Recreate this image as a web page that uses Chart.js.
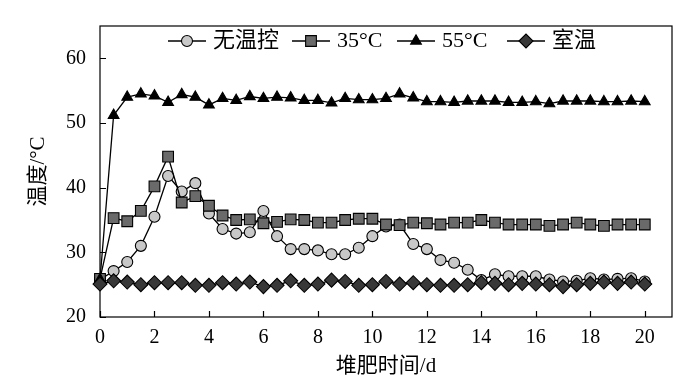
<!DOCTYPE html>
<html>
<head>
<meta charset="utf-8">
<script src="https://cdn.jsdelivr.net/npm/chart.js@4/dist/chart.umd.min.js"></script>
<style>
html,body{margin:0;padding:0;background:#fff;}
#wrap{width:700px;height:384px;}
</style>
</head>
<body>
<div id="wrap"><canvas id="c" width="700" height="384"></canvas></div>
<script>
// ---- data ----
const days = [0,0.5,1,1.5,2,2.5,3,3.5,4,4.5,5,5.5,6,6.5,7,7.5,8,8.5,9,9.5,10,10.5,11,11.5,12,12.5,13,13.5,14,14.5,15,15.5,16,16.5,17,17.5,18,18.5,19,19.5,20];
const seriesNames = ['无温控','35°C','55°C','室温'];
const noControl = [25.8,27.1,28.5,31.0,35.5,41.8,39.4,40.7,36.0,33.6,32.9,33.1,36.4,32.5,30.5,30.5,30.3,29.7,29.7,30.7,32.5,34.0,34.3,31.3,30.5,28.8,28.4,27.3,25.7,26.6,26.3,26.3,26.3,25.8,25.5,25.6,26.0,25.8,25.9,26.0,25.5];
const temp35 = [25.9,35.3,34.8,36.4,40.2,44.8,37.7,38.7,37.2,35.7,35.0,35.1,34.5,34.7,35.1,35.0,34.6,34.6,35.0,35.2,35.2,34.3,34.2,34.6,34.5,34.3,34.6,34.6,35.0,34.6,34.3,34.3,34.3,34.1,34.3,34.6,34.3,34.1,34.3,34.3,34.3];
const temp55 = [25.8,51.2,54.0,54.5,54.2,53.2,54.4,54.0,52.8,53.8,53.5,54.1,53.8,54.0,53.9,53.5,53.5,53.1,53.8,53.6,53.6,53.8,54.5,53.9,53.3,53.3,53.2,53.4,53.4,53.4,53.2,53.2,53.3,53.0,53.4,53.4,53.4,53.3,53.3,53.4,53.3];
const roomTemp = [25.1,25.6,25.4,25.0,25.3,25.3,25.3,24.9,24.9,25.3,25.1,25.4,24.7,24.9,25.6,24.9,25.1,25.7,25.5,24.9,25.0,25.5,25.1,25.3,25.0,24.9,24.9,25.0,25.3,25.2,25.0,25.2,25.1,25.0,24.7,25.0,25.2,25.4,25.2,25.4,25.1];
const xAxisTitle = '堆肥时间/d';
const yAxisTitle = '温度/°C';

const FONT = "'Liberation Serif','Noto Sans CJK SC',serif";
Chart.defaults.font.family = FONT;
Chart.defaults.color = '#000';

function pts(arr){ return arr.map((v,i)=>({x:days[i], y:v})); }

const styles = [
  {pointStyle:'circle', radius:5.5, fill:'#c8c8c8', order:4},
  {pointStyle:'rect', radius:7.6, fill:'#6a6a6a', order:3},
  {pointStyle:'triangle', radius:6.2, fill:'#000000', order:2},
  {pointStyle:'rectRot', radius:7, fill:'#383838', order:1}
];
const allData = [noControl, temp35, temp55, roomTemp];

const datasets = allData.map((arr,i)=>({
  label: seriesNames[i],
  data: pts(arr),
  borderColor:'#000',
  borderWidth:1.3,
  pointStyle: styles[i].pointStyle,
  pointRadius: styles[i].radius,
  pointHoverRadius: styles[i].radius,
  pointBackgroundColor: styles[i].fill,
  pointBorderColor:'#000',
  pointBorderWidth:1.1,
  tension:0,
  clip:false,
  order: styles[i].order
}));

const framePlugin = {
  id:'frame',
  beforeDatasetsDraw(chart){
    const {ctx, chartArea:a, scales} = chart;
    ctx.save();
    ctx.strokeStyle = '#000';
    ctx.lineWidth = 1.2;
    ctx.strokeRect(a.left, a.top, a.right-a.left, a.bottom-a.top);
    ctx.beginPath();
    scales.y.ticks.forEach(t=>{
      const y = Math.round(scales.y.getPixelForValue(t.value))+0.5;
      ctx.moveTo(a.left, y); ctx.lineTo(a.left+6, y);
    });
    scales.x.ticks.forEach(t=>{
      const x = Math.round(scales.x.getPixelForValue(t.value))+0.5;
      ctx.moveTo(x, a.bottom); ctx.lineTo(x, a.bottom-6);
    });
    ctx.stroke();
    ctx.restore();
  },
  afterDraw(chart){
    const ctx = chart.ctx;
    const xs = [168, 292, 397, 507];
    const y = 41;
    ctx.save();
    chart.data.datasets.forEach((ds,i)=>{
      const x0 = xs[i];
      ctx.strokeStyle = '#000';
      ctx.lineWidth = 1.3;
      ctx.beginPath(); ctx.moveTo(x0, y); ctx.lineTo(x0+38, y); ctx.stroke();
      ctx.fillStyle = ds.pointBackgroundColor;
      ctx.strokeStyle = '#000';
      ctx.lineWidth = 1.1;
      Chart.helpers.drawPoint(ctx, {pointStyle: ds.pointStyle, radius: ds.pointRadius, rotation:0, borderWidth:1.1}, x0+19, y);
      ctx.fillStyle = '#000';
      ctx.font = "22px " + FONT;
      ctx.textBaseline = 'middle';
      ctx.textAlign = 'left';
      ctx.fillText(ds.label, x0+45, y);
    });
    ctx.restore();
  }
};

new Chart(document.getElementById('c'), {
  type:'line',
  data:{datasets},
  options:{
    responsive:false,
    animation:false,
    events:[],
    layout:{padding:{top:3,right:28,left:0,bottom:0}},
    plugins:{legend:{display:false}, tooltip:{enabled:false}},
    scales:{
      x:{
        type:'linear', min:0, max:21,
        grid:{display:false, drawTicks:false},
        border:{display:false},
        ticks:{stepSize:2, includeBounds:false, padding:9, font:{size:20}, color:'#000', maxRotation:0},
        title:{display:true, text:xAxisTitle, font:{size:21}, color:'#000', padding:{top:0,bottom:5}},
        afterFit(s){ s.height = 67; }
      },
      y:{
        type:'linear', min:20, max:65,
        grid:{display:false, drawTicks:false},
        border:{display:false},
        ticks:{stepSize:10, includeBounds:false, padding:14, font:{size:20}, color:'#000'},
        title:{display:true, text:yAxisTitle, font:{size:21}, color:'#000', padding:{top:26,bottom:0}},
        afterFit(s){ s.width = 100; }
      }
    }
  },
  plugins:[framePlugin]
});
</script>
</body>
</html>
